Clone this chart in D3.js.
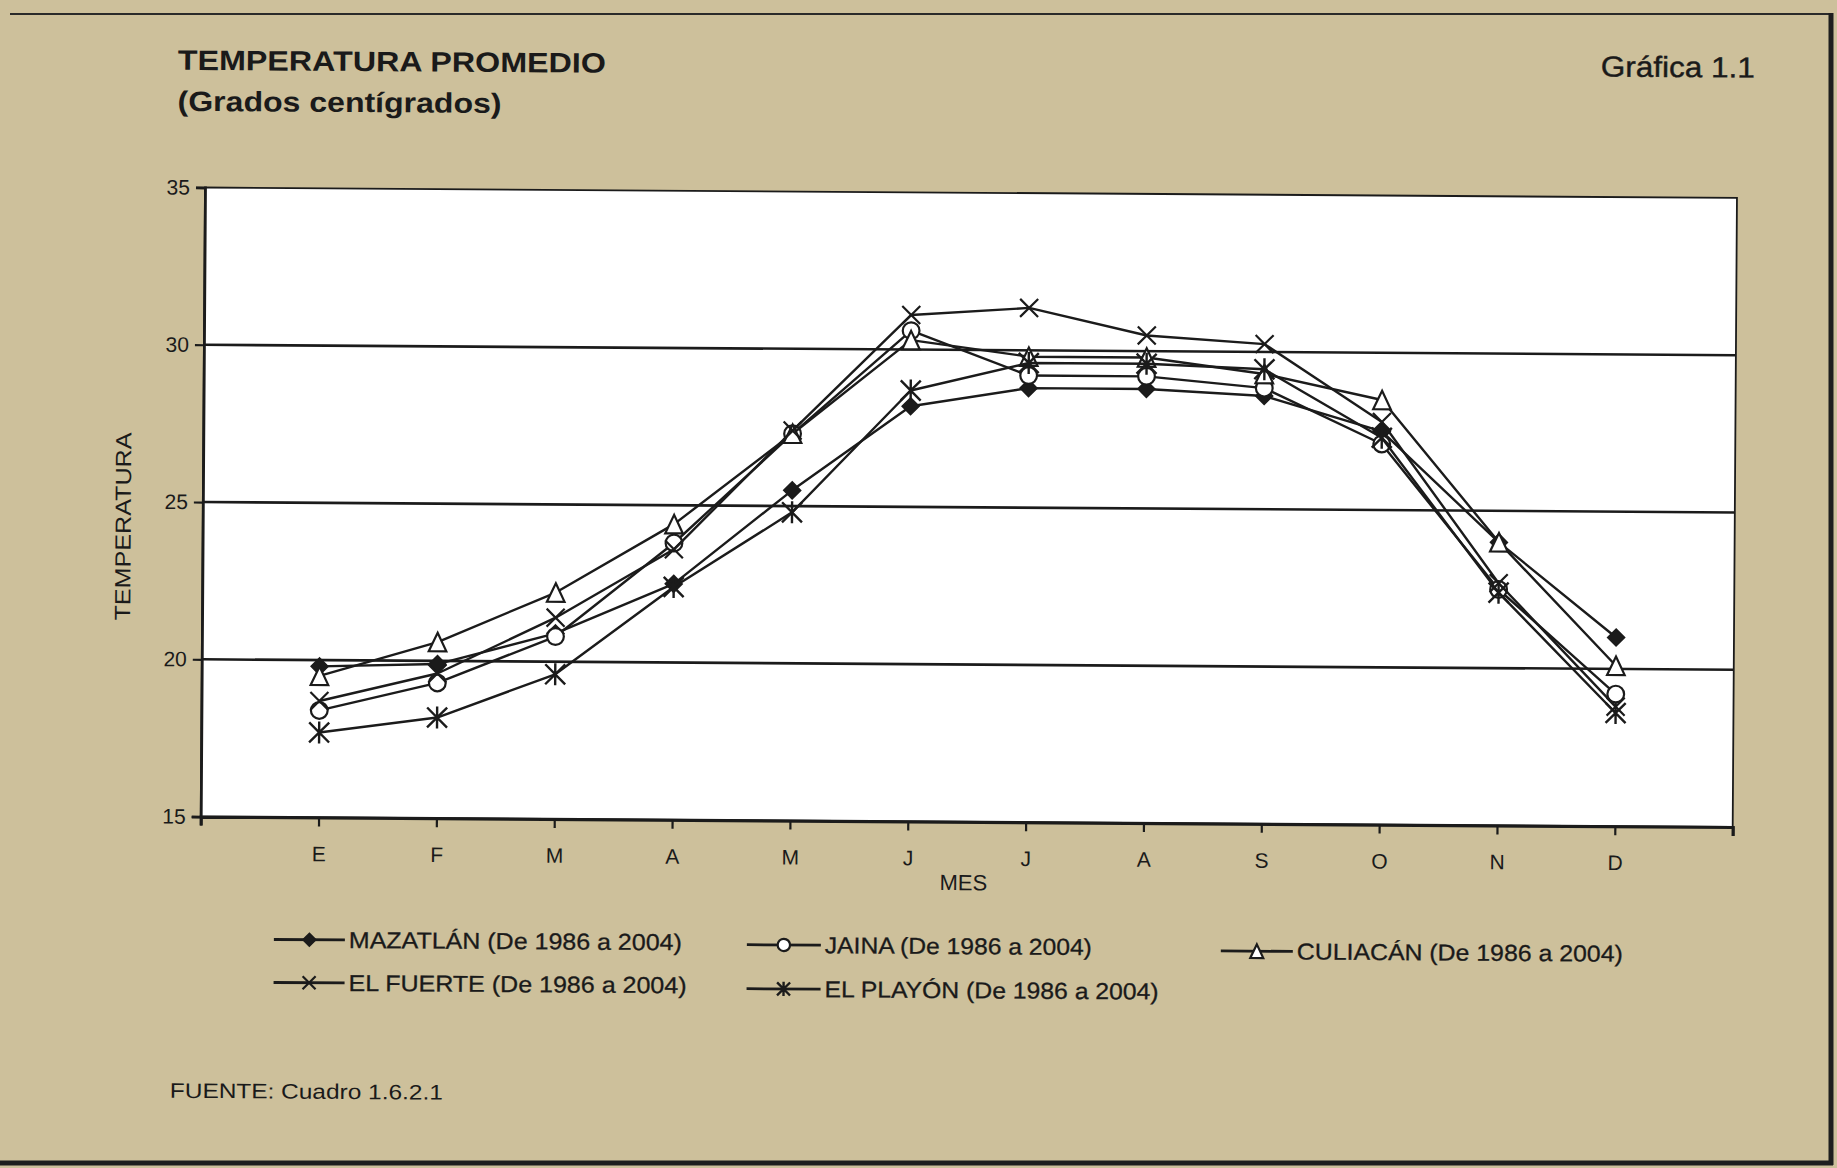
<!DOCTYPE html>
<html>
<head>
<meta charset="utf-8">
<script src="https://cdn.jsdelivr.net/npm/d3@7"></script>
<style>
  html, body { margin: 0; padding: 0; background: #cdc09b; }
  svg { display: block; }
  text { font-family: "Liberation Sans", Arial, sans-serif; fill: #1a1a1a; }
</style>
</head>
<body>
<svg id="chart" width="1837" height="1168"></svg>
<script>
// ---------- DATA ----------
const months = ["E", "F", "M", "A", "M", "J", "J", "A", "S", "O", "N", "D"];
const yTicks = [15, 20, 25, 30, 35];
const gridValues = [20, 25, 30];
const seriesNames = [
  "MAZATLÁN (De 1986 a 2004)",
  "JAINA (De 1986 a 2004)",
  "CULIACÁN (De 1986 a 2004)",
  "EL FUERTE (De 1986 a 2004)",
  "EL PLAYÓN (De 1986 a 2004)"
];
const seriesMarkers = ["diamond", "circle", "triangle", "x", "asterisk"];
const mazatlan = [19.8, 19.9, 20.9, 22.5, 25.5, 28.2, 28.8, 28.8, 28.6, 27.5, 24.0, 21.0];
const jaina    = [18.4, 19.3, 20.8, 23.8, 27.3, 30.6, 29.2, 29.2, 28.85, 27.1, 22.5, 19.2];
const culiacan = [19.5, 20.6, 22.2, 24.4, 27.3, 30.3, 29.8, 29.8, 29.3, 28.5, 24.0, 20.1];
const elFuerte = [18.7, 19.6, 21.4, 23.6, 27.4, 31.1, 31.35, 30.5, 30.25, 27.8, 22.7, 18.8];
const elPlayon = [17.7, 18.2, 19.6, 22.4, 24.8, 28.7, 29.6, 29.6, 29.45, 27.3, 22.4, 18.6];
const seriesValues = [mazatlan, jaina, culiacan, elFuerte, elPlayon];

// ---------- LAYOUT ----------
const svg = d3.select("#chart");
const W = 1837, H = 1168;
const ink = "#1b1b1b";

svg.append("rect").attr("width", W).attr("height", H).attr("fill", "#cdc09b");

// scan tilt
const root = svg.append("g").attr("transform", "rotate(0.39,205,187.5)");

const x = d3.scaleLinear().domain([0, months.length + 1]).range([205, 1737]);
const y = d3.scaleLinear().domain([15, 35]).range([816.6, 187.5]);

// plot area
root.append("rect")
  .attr("x", x(0)).attr("y", y(35))
  .attr("width", x(months.length + 1) - x(0))
  .attr("height", y(15) - y(35))
  .attr("fill", "#ffffff").attr("stroke", ink).attr("stroke-width", 1.8);

// grid lines
root.append("g").selectAll("line").data(gridValues).join("line")
  .attr("x1", x(0)).attr("x2", x(months.length + 1))
  .attr("y1", d => y(d)).attr("y2", d => y(d))
  .attr("stroke", ink).attr("stroke-width", 2.6);

// y axis
const yAxis = root.append("g").attr("transform", `translate(${x(0)},0)`)
  .call(d3.axisLeft(y).tickValues(yTicks).tickSize(9).tickPadding(6).tickFormat(d3.format("d")));
yAxis.select(".domain").attr("stroke", ink).attr("stroke-width", 2.8);
yAxis.selectAll(".tick line").attr("stroke", ink).attr("stroke-width", 2.2);
yAxis.selectAll(".tick text").attr("font-size", 21).attr("fill", "#1a1a1a")
  .attr("font-family", "Liberation Sans, Arial, sans-serif");

// x axis
const xTickVals = d3.range(0, months.length + 2);
const xAxis = root.append("g").attr("transform", `translate(0,${y(15)})`)
  .call(d3.axisBottom(x).tickValues(xTickVals).tickSize(9).tickPadding(20)
    .tickFormat(i => (i >= 1 && i <= months.length) ? months[i - 1] : ""));
xAxis.select(".domain").attr("stroke", ink).attr("stroke-width", 3.2);
xAxis.selectAll(".tick line").attr("stroke", ink).attr("stroke-width", 2.2);
xAxis.selectAll(".tick text").attr("font-size", 21).attr("fill", "#1a1a1a")
  .attr("font-family", "Liberation Sans, Arial, sans-serif");

// axis titles
root.append("text").attr("x", 968).attr("y", 885).attr("text-anchor", "middle")
  .attr("font-size", 22).text("MES");
root.append("text").attr("transform", "translate(133,527) rotate(-90)")
  .attr("text-anchor", "middle").attr("font-size", 22)
  .attr("textLength", 188).attr("lengthAdjust", "spacingAndGlyphs").text("TEMPERATURA");

// titles
root.append("text").attr("x", 177).attr("y", 70).attr("font-size", 28).attr("font-weight", "bold")
  .attr("textLength", 428).attr("lengthAdjust", "spacingAndGlyphs").text("TEMPERATURA PROMEDIO");
root.append("text").attr("x", 177).attr("y", 111).attr("font-size", 28).attr("font-weight", "bold")
  .attr("textLength", 324).attr("lengthAdjust", "spacingAndGlyphs").text("(Grados centígrados)");
root.append("text").attr("x", 1600).attr("y", 67).attr("font-size", 29)
  .attr("textLength", 154).attr("lengthAdjust", "spacingAndGlyphs")
  .attr("stroke", "#1a1a1a").attr("stroke-width", 0.4).text("Gráfica 1.1");
root.append("text").attr("x", 176).attr("y", 1098).attr("font-size", 21)
  .attr("textLength", 273).attr("lengthAdjust", "spacingAndGlyphs").text("FUENTE: Cuadro 1.6.2.1");

// ---------- MARKERS ----------
function drawMarker(sel, type, s) {
  if (type === "diamond") {
    sel.append("path").attr("d", `M0,${-s}L${s},0L0,${s}L${-s},0Z`)
      .attr("fill", ink).attr("stroke", ink).attr("stroke-width", 1.5);
  } else if (type === "circle") {
    sel.append("circle").attr("r", s * 0.95).attr("fill", "#fff").attr("stroke", ink).attr("stroke-width", 2.2);
  } else if (type === "triangle") {
    const h = s * 1.05;
    sel.append("path").attr("d", `M0,${-h}L${s},${h}L${-s},${h}Z`)
      .attr("fill", "#fff").attr("stroke", ink).attr("stroke-width", 2.2);
  } else if (type === "x") {
    sel.append("path").attr("d", `M${-s},${-s}L${s},${s}M${s},${-s}L${-s},${s}`)
      .attr("fill", "none").attr("stroke", ink).attr("stroke-width", 2.2);
  } else if (type === "asterisk") {
    const t = s * 1.1;
    sel.append("path").attr("d", `M${-s},${-s}L${s},${s}M${s},${-s}L${-s},${s}M0,${-t}L0,${t}`)
      .attr("fill", "none").attr("stroke", ink).attr("stroke-width", 2.4);
  }
}
const markerSize = { diamond: 8.5, circle: 8.8, triangle: 8.8, x: 9, asterisk: 10 };

// ---------- SERIES ----------
const line = d3.line().x((d, i) => x(i + 1)).y(d => y(d));
seriesValues.forEach((vals, si) => {
  const g = root.append("g");
  g.append("path").datum(vals).attr("d", line)
    .attr("fill", "none").attr("stroke", ink).attr("stroke-width", 2.4).attr("stroke-linejoin", "round");
  g.selectAll("g.pt").data(vals).join("g").attr("class", "pt")
    .attr("transform", (d, i) => `translate(${x(i + 1)},${y(d)})`)
    .each(function () { drawMarker(d3.select(this), seriesMarkers[si], markerSize[seriesMarkers[si]]); });
});

// ---------- LEGEND ----------
const legendPos = [
  { lx: 279, tx: 354, y: 939, w: 333 },
  { lx: 752, tx: 830, y: 941, w: 267 },
  { lx: 1226, tx: 1302, y: 944, w: 326 },
  { lx: 279, tx: 354, y: 982, w: 338 },
  { lx: 752, tx: 830, y: 985, w: 334 }
];
seriesNames.forEach((name, i) => {
  const p = legendPos[i];
  const g = root.append("g");
  g.append("line").attr("x1", p.lx).attr("x2", p.tx - 4).attr("y1", p.y).attr("y2", p.y)
    .attr("stroke", ink).attr("stroke-width", 2.8);
  const m = g.append("g").attr("transform", `translate(${(p.lx + p.tx - 4) / 2},${p.y})`);
  drawMarker(m, seriesMarkers[i], 6.5);
  g.append("text").attr("x", p.tx).attr("y", p.y + 8).attr("font-size", 23)
    .attr("textLength", p.w).attr("lengthAdjust", "spacingAndGlyphs")
    .attr("stroke", "#1a1a1a").attr("stroke-width", 0.3).text(name);
});

// ---------- FRAME ----------
svg.append("line").attr("x1", 10).attr("x2", 1832).attr("y1", 14).attr("y2", 14)
  .attr("stroke", "#2a2a2a").attr("stroke-width", 2);
svg.append("line").attr("x1", 1831).attr("x2", 1831).attr("y1", 13).attr("y2", 1165)
  .attr("stroke", "#1e1e1e").attr("stroke-width", 5);
svg.append("line").attr("x1", 0).attr("x2", 1833).attr("y1", 1163).attr("y2", 1163)
  .attr("stroke", "#1e1e1e").attr("stroke-width", 5);
</script>
</body>
</html>
